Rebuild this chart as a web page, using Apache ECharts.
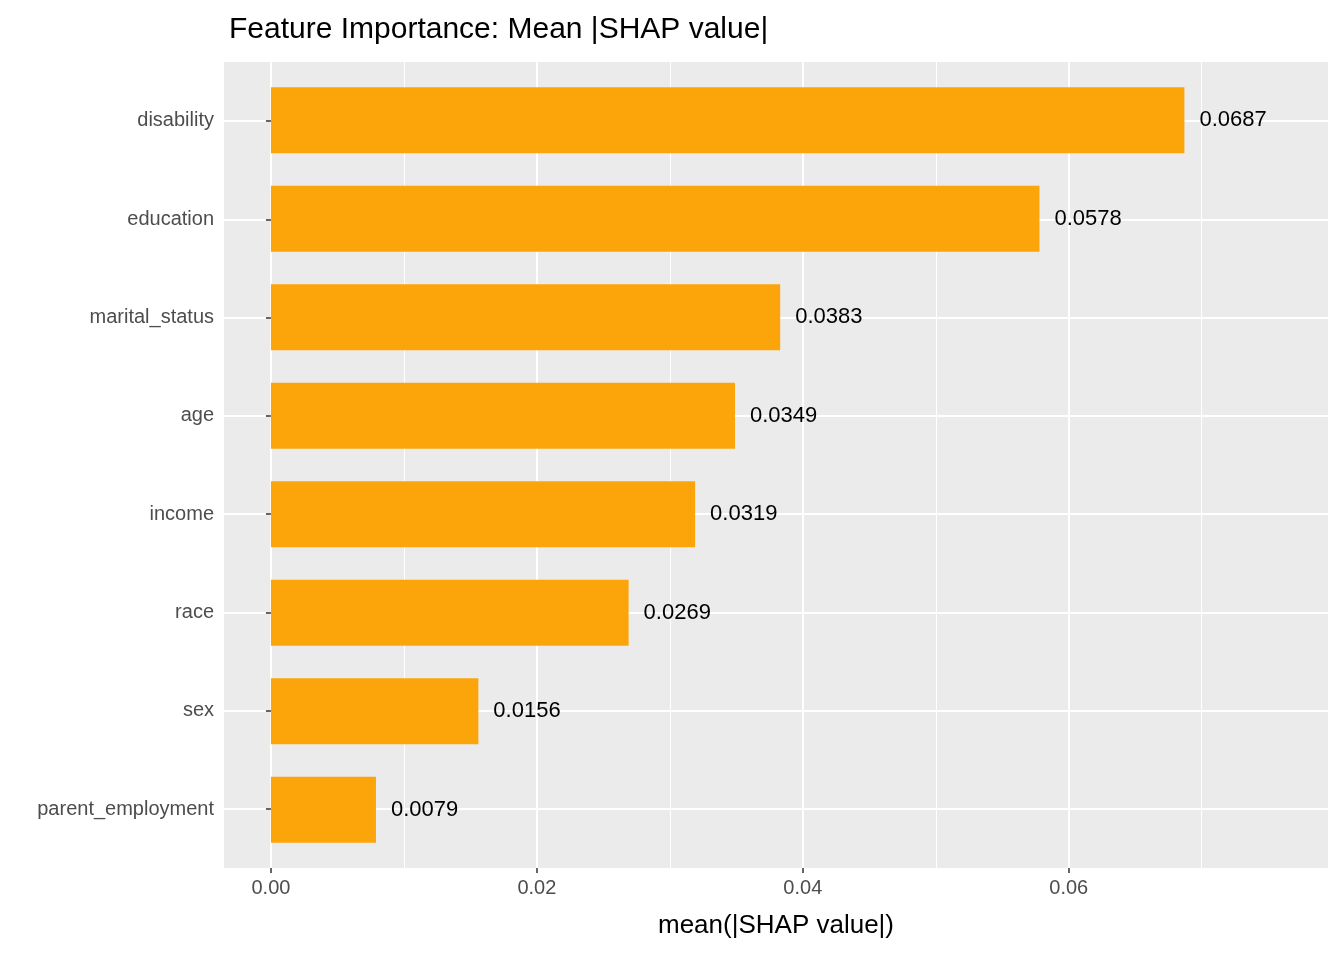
<!DOCTYPE html>
<html><head><meta charset="utf-8">
<script src="https://cdn.jsdelivr.net/npm/echarts@6/dist/echarts.min.js"></script>
<style>html,body{margin:0;padding:0;background:#fff}#c{width:1344px;height:960px}</style>
</head><body><div id="c"></div>
<script>
// features from top to bottom
const features = ['disability', 'education', 'marital_status', 'age', 'income', 'race', 'sex', 'parent_employment'];
const shapValues = [0.0687, 0.0578, 0.0383, 0.0349, 0.0319, 0.0269, 0.0156, 0.0079];
const xTicks = [0, 0.02, 0.04, 0.06];
const xMinor = [0.01, 0.03, 0.05, 0.07];

const n = features.length;
const pos = features.map((f, i) => n - i);

const chart = echarts.init(document.getElementById('c'), null, { renderer: 'canvas' });
const font = 'Arial, "Liberation Sans", sans-serif';
const xBase = { type: 'value', min: -0.00353, max: 0.0795, axisLine: { show: false } };
chart.setOption({
    animation: false,
    title: {
        text: 'Feature Importance: Mean |SHAP value|',
        left: 224, top: 10,
        textStyle: { fontFamily: font, fontSize: 30, fontWeight: 'normal', color: '#000' }
    },
    grid: [
        { left: 224, right: 16, top: 62, bottom: 92, show: true, backgroundColor: '#ebebeb', borderWidth: 0 },
        // bars grid: inset so category band centres match the ggplot expansion
        { left: 224, right: 16, top: 71, bottom: 101 }
    ],
    xAxis: [
        Object.assign({}, xBase, {
            gridIndex: 0,
            name: 'mean(|SHAP value|)', nameLocation: 'middle', nameGap: 45,
            nameTextStyle: { fontFamily: font, fontSize: 26, color: '#000' },
            axisTick: { show: true, length: 5, lineStyle: { color: '#333', width: 1.5 }, customValues: xTicks },
            axisLabel: { customValues: xTicks, fontFamily: font, fontSize: 20, color: '#4d4d4d', margin: 10,
                formatter: v => v.toFixed(2) },
            splitLine: { show: true, lineStyle: { color: '#fff', width: 2 }, customValues: xTicks }
        }),
        Object.assign({}, xBase, {
            gridIndex: 0,
            axisTick: { show: false, customValues: xMinor },
            axisLabel: { show: false, customValues: xMinor },
            splitLine: { show: true, lineStyle: { color: '#fff', width: 1 }, customValues: xMinor }
        }),
        Object.assign({}, xBase, {
            gridIndex: 1, show: false, splitLine: { show: false }
        })
    ],
    yAxis: [
        {
            gridIndex: 0, type: 'value', min: 0.4, max: n + 0.6,
            axisLine: { show: false },
            axisTick: { show: true, length: 5, lineStyle: { color: '#333', width: 1.5 }, customValues: pos },
            axisLabel: { customValues: pos, fontFamily: font, fontSize: 20, color: '#4d4d4d', margin: 10,
                formatter: v => features[n - Math.round(v)] },
            splitLine: { show: true, lineStyle: { color: '#fff', width: 2 }, customValues: pos }
        },
        {
            gridIndex: 1, type: 'category', data: features, inverse: true, show: false
        }
    ],
    series: [{
        type: 'bar', xAxisIndex: 2, yAxisIndex: 1, data: shapValues, barWidth: 66,
        itemStyle: { color: '#fca50a' },
        label: { show: true, position: 'right', distance: 15, fontFamily: font, fontSize: 22, color: '#000',
            formatter: p => p.value.toFixed(4) }
    }]
});
</script></body></html>
